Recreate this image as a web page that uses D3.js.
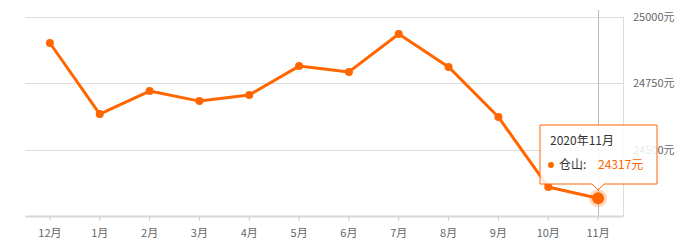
<!DOCTYPE html>
<html>
<head>
<meta charset="utf-8">
<script src="https://cdn.jsdelivr.net/npm/d3@7"></script>
<style>
  body { margin: 0; background: #fff; }
  svg { font-family: "Noto Sans CJK SC", "Noto Sans", sans-serif; }
</style>
</head>
<body>
<div id="chart"></div>
<script>
// chart data
const months = ["12月", "1月", "2月", "3月", "4月", "5月", "6月", "7月", "8月", "9月", "10月", "11月"];
const prices = [24902, 24634, 24721, 24683, 24706, 24815, 24793, 24936, 24812, 24623, 24359, 24317];
const yTicks = [24500, 24750, 25000];
const seriesName = "仓山";
const hoverLabel = "2020年11月";

const width = 692, height = 251;
const plotLeft = 25, plotRight = 623, plotTop = 17, plotBottom = 216;
const orange = "#ff6600";

const svg = d3.select("#chart").append("svg")
    .attr("width", width)
    .attr("height", height);

const x = d3.scaleBand().domain(months).range([plotLeft, plotRight]);
const y = d3.scaleLinear().domain([24250, 25000]).range([plotBottom, plotTop]);
const cx = d => x(d) + x.bandwidth() / 2;

// horizontal grid lines
svg.append("g").selectAll("line")
    .data(yTicks)
    .enter().append("line")
    .attr("x1", plotLeft).attr("x2", plotRight)
    .attr("y1", d => Math.round(y(d)) + 0.5)
    .attr("y2", d => Math.round(y(d)) + 0.5)
    .attr("stroke", "#dddddd");

// right border
svg.append("line")
    .attr("x1", plotRight + 0.5).attr("x2", plotRight + 0.5)
    .attr("y1", plotTop).attr("y2", plotBottom)
    .attr("stroke", "#dddddd");

// y labels
svg.append("g").selectAll("text")
    .data(yTicks)
    .enter().append("text")
    .attr("x", plotRight + 10)
    .attr("y", d => y(d) + 4)
    .attr("font-size", 11)
    .attr("fill", "#666")
    .text(d => d + "元");

// crosshair on hovered point
const last = months.length - 1;
svg.append("line")
    .attr("x1", Math.round(cx(months[last])) + 0.5)
    .attr("x2", Math.round(cx(months[last])) + 0.5)
    .attr("y1", 10).attr("y2", plotBottom)
    .attr("stroke", "#bbbbbb");

// x axis
const xAxis = svg.append("g")
    .attr("transform", `translate(0,${plotBottom})`)
    .call(d3.axisBottom(x).tickSize(5).tickPadding(8).tickSizeOuter(0));
xAxis.select(".domain").attr("stroke", "#d8d8d8").attr("stroke-width", 2);
xAxis.selectAll(".tick line").attr("stroke", "#cccccc");
xAxis.selectAll(".tick text")
    .attr("font-size", 11)
    .attr("fill", "#666")
    .attr("font-family", "Noto Sans CJK SC, sans-serif");

// line
const line = d3.line()
    .x((d, i) => cx(months[i]))
    .y(d => y(d));

svg.append("path")
    .datum(prices)
    .attr("d", line)
    .attr("fill", "none")
    .attr("stroke", orange)
    .attr("stroke-width", 3)
    .attr("stroke-linejoin", "round");

svg.append("g").selectAll("circle")
    .data(prices)
    .enter().append("circle")
    .attr("cx", (d, i) => cx(months[i]))
    .attr("cy", d => y(d))
    .attr("r", (d, i) => i === last ? 0 : 4)
    .attr("fill", orange);

// hovered point
const hx = cx(months[last]), hy = y(prices[last]);
svg.append("circle")
    .attr("cx", hx).attr("cy", hy).attr("r", 9)
    .attr("fill", orange).attr("opacity", 0.25);
svg.append("circle")
    .attr("cx", hx).attr("cy", hy).attr("r", 6)
    .attr("fill", orange);

// tooltip
const tx = 540, ty = 125, tw = 117, th = 59;
const tip = svg.append("g");
tip.append("path")
    .attr("d", `M${tx},${ty}H${tx + tw}V${ty + th}H${hx + 6}L${hx},${ty + th + 6}L${hx - 6},${ty + th}H${tx}Z`)
    .attr("fill", "rgba(255,255,255,0.85)")
    .attr("stroke", orange)
    .attr("stroke-width", 1);
tip.append("text")
    .attr("x", tx + 10).attr("y", ty + 20)
    .attr("font-size", 12).attr("fill", "#333")
    .text(hoverLabel);
tip.append("circle")
    .attr("cx", tx + 11).attr("cy", ty + 40).attr("r", 3)
    .attr("fill", orange);
tip.append("text")
    .attr("x", tx + 19).attr("y", ty + 44)
    .attr("font-size", 12).attr("fill", "#333")
    .text(seriesName + ":");
tip.append("text")
    .attr("x", tx + 58).attr("y", ty + 44)
    .attr("font-size", 12).attr("fill", orange)
    .text(prices[last] + "元");
</script>
</body>
</html>
